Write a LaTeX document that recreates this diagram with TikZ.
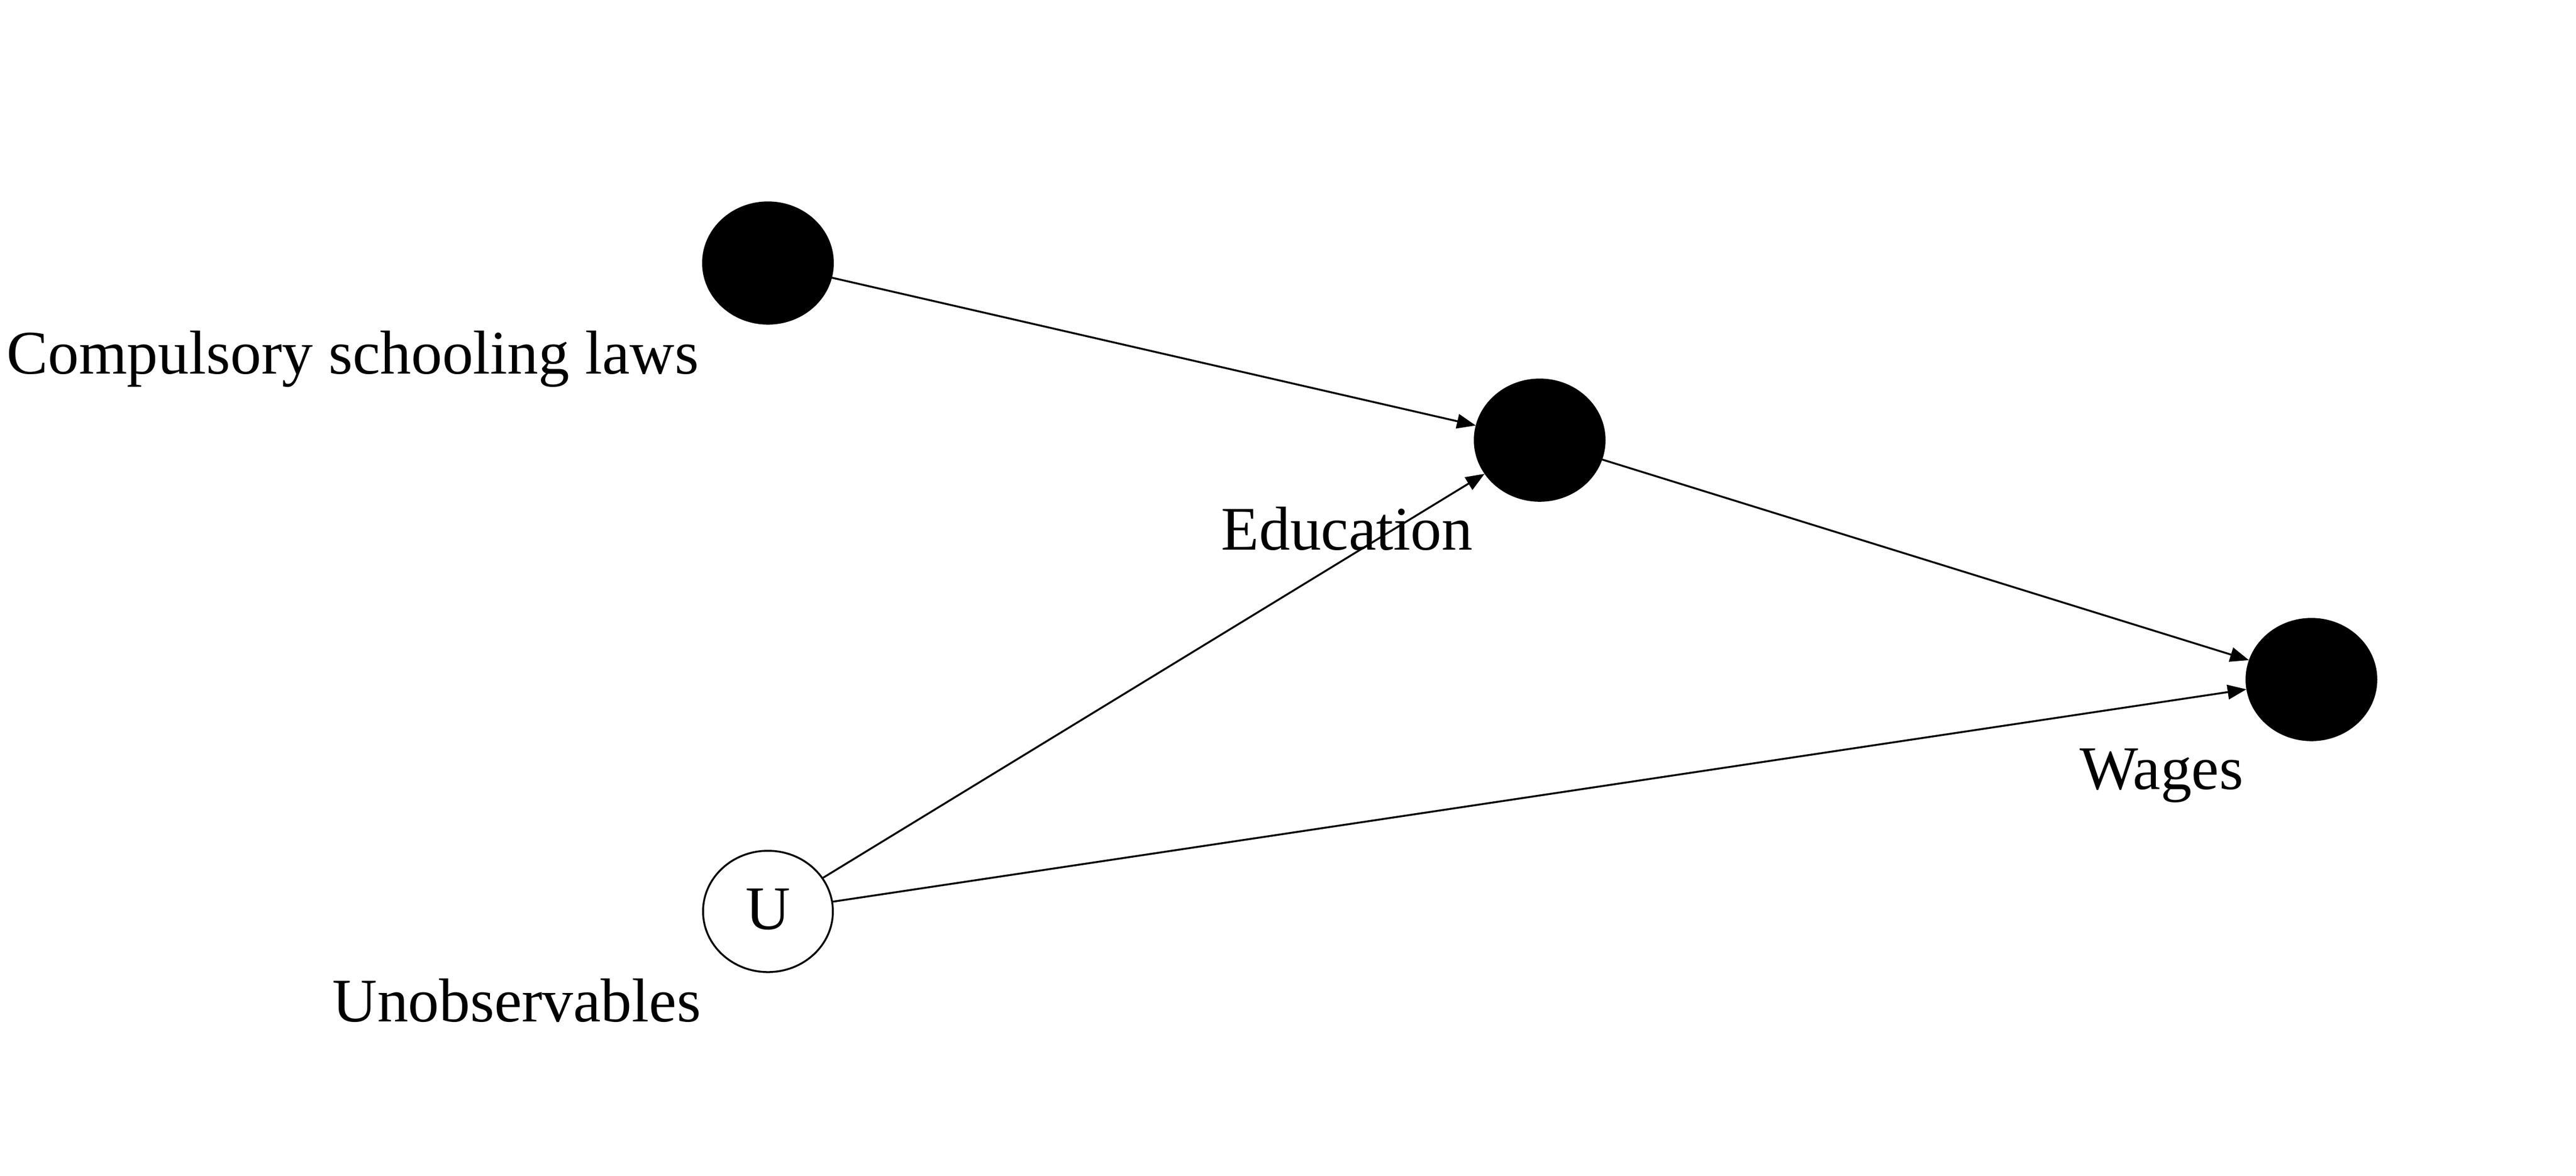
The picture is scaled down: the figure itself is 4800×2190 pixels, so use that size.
\documentclass[tikz,border=0pt]{standalone}
\usepackage{fontspec}
\setmainfont{Liberation Serif}
\usetikzlibrary{shapes.geometric,arrows.meta}
\begin{document}
\begin{tikzpicture}[x=0.1pt,y=-0.1pt,
  var/.style={ellipse, draw=black, line width=0.35pt, minimum width=24.2pt, minimum height=22.6pt, inner sep=0pt, font=\fontsize{11.55pt}{13pt}\selectfont},
  obs/.style={var, fill=black},
  lat/.style={var, fill=white},
  lbl/.style={anchor=base east, inner sep=0pt, font=\fontsize{11.55pt}{13pt}\selectfont},
  edgearrow/.style={-{Triangle[length=3.5pt,width=2.7pt]}, line width=0.35pt}]
\useasboundingbox (0,0) rectangle (4800,2190);
\node[obs] (csl) at (1431,490) {};
\node[obs] (edu) at (2869,820) {};
\node[obs] (wag) at (4307,1266) {};
\node[lat] (u) at (1431,1698) {\raisebox{0.9pt}{U}};
\node[lbl] (lcsl) at (1304,696) {Compulsory schooling laws};
\node[lbl] (ledu) at (2746,1024) {Education};
\node[lbl] (lwag) at (4182,1470) {Wages};
\node[lbl] (lu) at (1308,1903) {Unobservables};
\draw[edgearrow] (csl) -- (edu);
\draw[edgearrow] (edu) -- (wag);
\draw[edgearrow] (u) -- (edu);
\draw[edgearrow] (u) -- (wag);
\end{tikzpicture}
\end{document}
